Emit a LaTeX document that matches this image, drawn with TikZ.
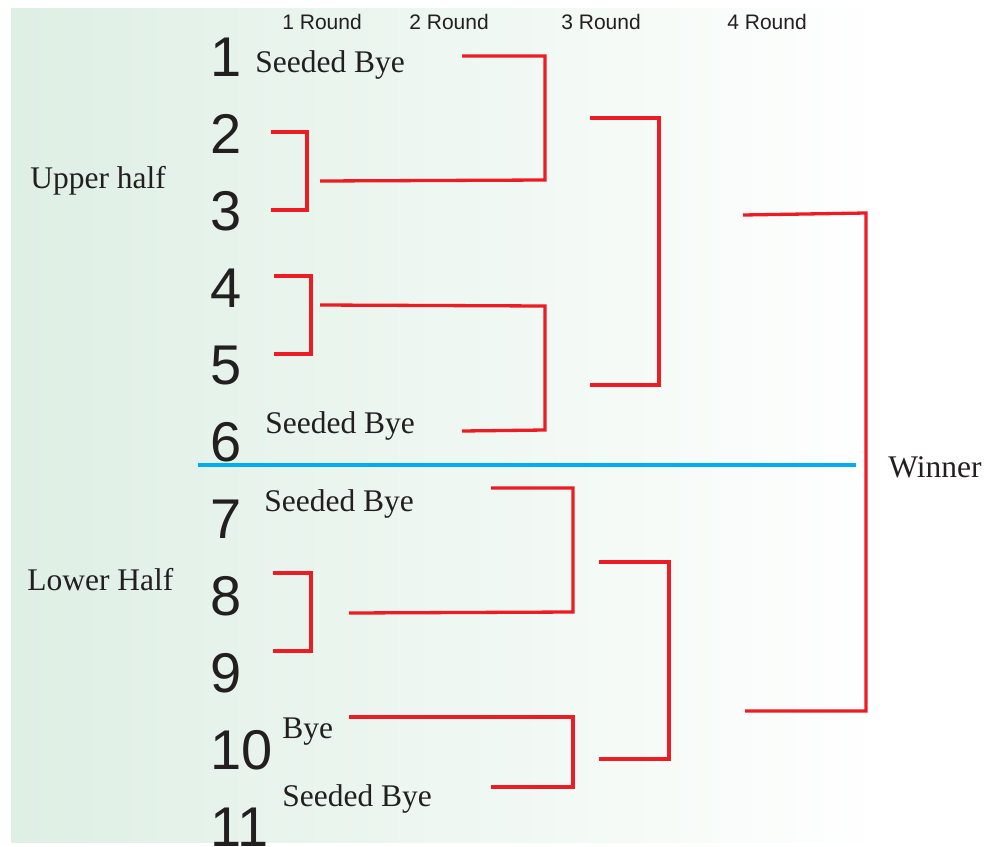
\documentclass[tikz,border=0pt]{standalone}
\usepackage{fontspec}
\setmainfont{Liberation Serif}
\newfontfamily\numfont{Liberation Sans}
\definecolor{bgleft}{RGB}{222,239,228}
\definecolor{ink}{RGB}{35,31,32}
\definecolor{bracketred}{RGB}{237,28,36}
\definecolor{halfblue}{RGB}{0,174,239}
\tikzset{every picture/.style={line width=0.75pt}}

\begin{document}
\begin{tikzpicture}[x=1pt,y=-1pt,
	txt/.style={anchor=base west,inner sep=0pt,text=ink},
	seed/.style={txt,font=\numfont\fontsize{56}{56}\selectfont},
	rnd/.style={txt,font=\numfont\fontsize{21}{21}\selectfont},
	lbl/.style={txt,font=\fontsize{31.5}{31.5}\selectfont},
	bracket/.style={draw=bracketred,line width=3.3pt}]
				\useasboundingbox (0,0) rectangle (984,846);
				\clip (0,0) rectangle (984,846);
				\shade[left color=bgleft,right color=white] (11,8) rectangle (890,842); %背景
				\foreach \r/\x in {1/282,2/409,3/561,4/727}
					\node[rnd] (round\r) at (\x,29) {\r\ Round}; %ラウンド
				\foreach \n in {1,...,11}
					\node[seed] (seed\n) at (210,{76+77*(\n-1)}) {\n}; %番号
				\node[lbl] (bye1) at (255,72) {Seeded Bye};
				\node[lbl] (bye6) at (265,433) {Seeded Bye};
				\node[lbl] (bye7) at (264,511) {Seeded Bye};
				\node[lbl] (bye10) at (282,738) {Bye};
				\node[lbl] (bye11) at (282,806) {Seeded Bye};
				\node[lbl] (upper) at (30,188) {Upper half};
				\node[lbl] (lower) at (27,590) {Lower Half};
				\node[lbl] (winner) at (888,477) {Winner};
				\draw[halfblue,line width=4.5pt] (198,465)--(856,465); %境界
				% 上半分
				\draw[bracket] (271,132)--(307,132)--(307,210)--(271,210);
				\draw[bracket] (462,56)--(545,56)--(545,180)--(320,181);
				\draw[bracket] (274,276)--(311,276)--(311,354)--(274,354);
				\draw[bracket] (320,305)--(545,306)--(545,430)--(462,431);
				\draw[bracket] (590,118)--(659,118)--(659,385)--(590,385);
				% 決勝
				\draw[bracket] (743,215)--(866,213)--(866,711)--(745,711);
				% 下半分
				\draw[bracket] (491,488)--(573,488)--(573,612)--(349,613);
				\draw[bracket] (273,573)--(311,573)--(311,651)--(273,651);
				\draw[bracket] (349,717)--(573,717)--(573,787)--(491,787);
				\draw[bracket] (599,562)--(669,562)--(669,759)--(599,759);
			\end{tikzpicture}
\end{document}
